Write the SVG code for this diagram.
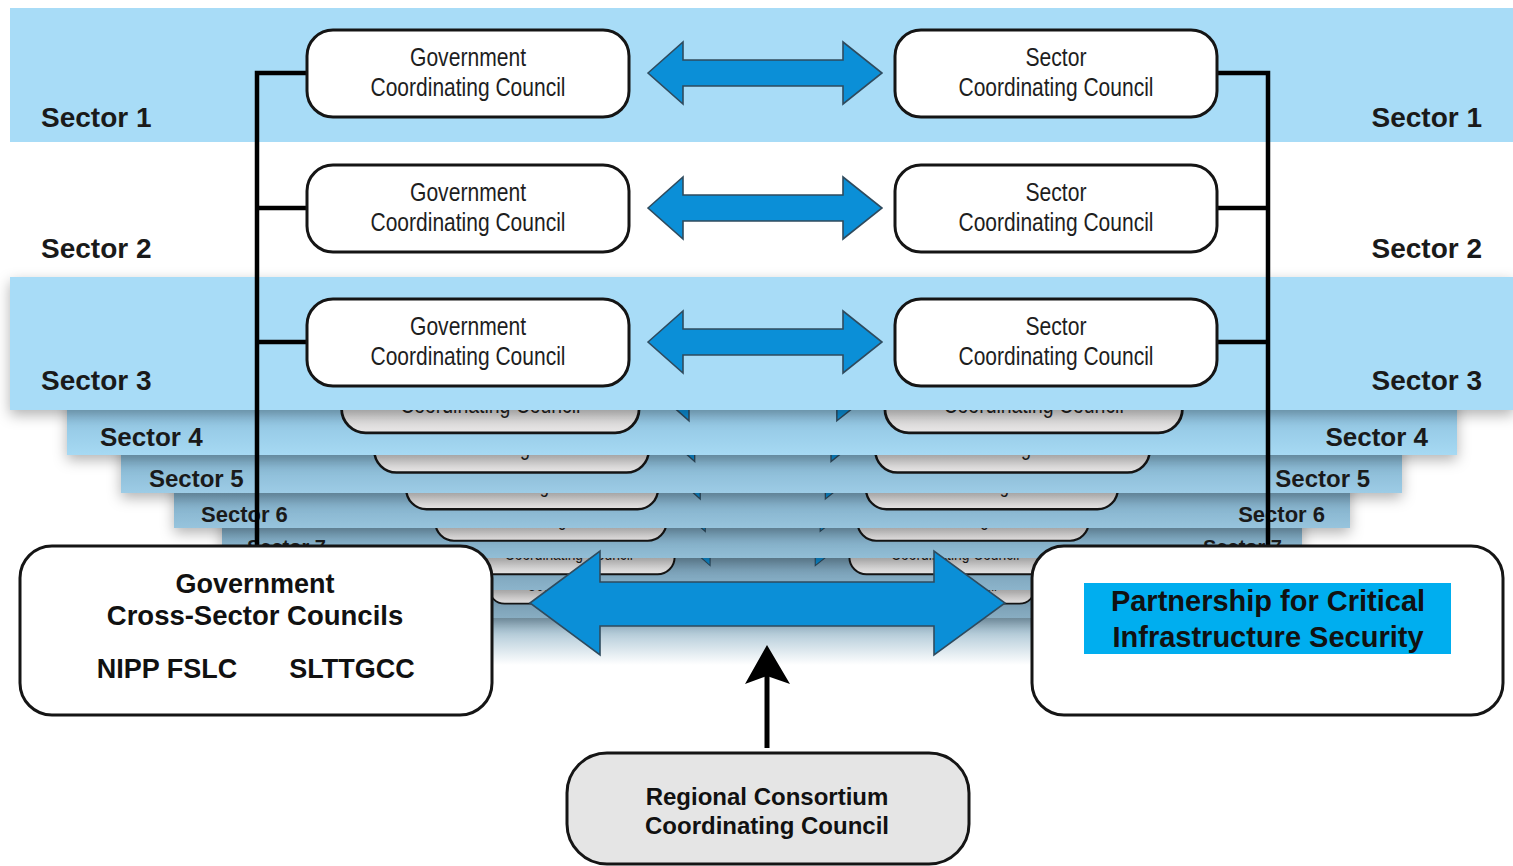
<svg xmlns="http://www.w3.org/2000/svg" xmlns:xlink="http://www.w3.org/1999/xlink" width="1513" height="866" viewBox="0 0 1513 866">
<style>
.gbox{fill:#ffffff;stroke:#151515;stroke-width:3}
.bbox{fill:url(#boxGrad);stroke:#151515;stroke-width:3}
.dbl{fill:#0b8fd7;stroke:#2f4b5e;stroke-width:1.6}
.conn{stroke:#000;stroke-width:4.5;fill:none}
.t1{font-family:"Liberation Sans Narrow","Liberation Sans",Arial,sans-serif;font-size:26px;fill:#1e1e1e;text-anchor:middle}
.sec{font-family:"Liberation Sans",Arial,sans-serif;font-weight:bold;fill:#1a1a1a}
.big{font-family:"Liberation Sans",Arial,sans-serif;font-weight:bold;fill:#111;text-anchor:middle}
</style>
<defs>
<filter id="sh" x="-5%" y="-20%" width="110%" height="150%">
<feDropShadow dx="0" dy="5" stdDeviation="7" flood-color="#000" flood-opacity="0.3"/>
</filter>
<linearGradient id="boxGrad" x1="0" y1="0" x2="0" y2="1">
<stop offset="0" stop-color="#b0b0b0"/><stop offset="0.6" stop-color="#cfcfcf"/><stop offset="1" stop-color="#e8e6e6"/>
</linearGradient>
<linearGradient id="g4" gradientUnits="userSpaceOnUse" x1="0" y1="410" x2="0" y2="455"><stop offset="0" stop-color="#8ec2df"/><stop offset="1" stop-color="#a6d9f3"/></linearGradient>
<linearGradient id="g5" gradientUnits="userSpaceOnUse" x1="0" y1="455" x2="0" y2="493"><stop offset="0" stop-color="#83b3ce"/><stop offset="1" stop-color="#9dcce6"/></linearGradient>
<linearGradient id="g6" gradientUnits="userSpaceOnUse" x1="0" y1="493" x2="0" y2="528"><stop offset="0" stop-color="#7eabc5"/><stop offset="1" stop-color="#97c4dd"/></linearGradient>
<linearGradient id="g7" gradientUnits="userSpaceOnUse" x1="0" y1="528" x2="0" y2="558"><stop offset="0" stop-color="#7aa5be"/><stop offset="1" stop-color="#92bed6"/></linearGradient>
<linearGradient id="g8" gradientUnits="userSpaceOnUse" x1="0" y1="558" x2="0" y2="590"><stop offset="0" stop-color="#7399b0"/><stop offset="1" stop-color="#8cb4cb"/></linearGradient>
<linearGradient id="g9" gradientUnits="userSpaceOnUse" x1="0" y1="590" x2="0" y2="618"><stop offset="0" stop-color="#6f93a9"/><stop offset="1" stop-color="#88adc2"/></linearGradient>
<linearGradient id="fade" x1="0" y1="0" x2="0" y2="1"><stop offset="0" stop-color="#8aafc4"/><stop offset="1" stop-color="#ffffff"/></linearGradient>
<g id="backSheet">
<rect class="bbox" x="-455" y="-111" width="322" height="87" rx="26"/>
<rect class="bbox" x="133" y="-111" width="322" height="87" rx="26"/>
<polygon class="dbl" points="-114,-68 -79,-99 -79,-81 81,-81 81,-99 120,-68 81,-37 81,-55 -79,-55 -79,-37"/>
<text class="t1" x="-294" y="-45" textLength="195" lengthAdjust="spacingAndGlyphs">Coordinating Council</text>
<text class="t1" x="294" y="-45" textLength="195" lengthAdjust="spacingAndGlyphs">Coordinating Council</text>
</g>
</defs>
<rect x="0" y="0" width="1513" height="866" fill="#ffffff"/>

<g id="back-layers">
<rect x="311" y="615" width="902" height="50" fill="url(#fade)"/>
<g id="sheet9">
<rect x="311" y="538" width="902" height="80" fill="url(#g9)" filter="url(#sh)"/>
<use xlink:href="#backSheet" href="#backSheet" transform="translate(762 618) scale(0.6)"/>
</g>
<g id="sheet8">
<rect x="268" y="503" width="988" height="87" fill="url(#g8)" filter="url(#sh)"/>
<use xlink:href="#backSheet" href="#backSheet" transform="translate(762 590) scale(0.657)"/>
</g>
<g id="sheet7">
<rect x="222" y="462" width="1080" height="96" fill="url(#g7)" filter="url(#sh)"/>
<use xlink:href="#backSheet" href="#backSheet" transform="translate(762 558) scale(0.718)"/>
<text class="sec" x="247" y="554" font-size="20">Sector 7</text>
<text class="sec" x="1282" y="554" font-size="20" text-anchor="end">Sector 7</text>
</g>
<g id="sheet6">
<rect x="174" y="424" width="1176" height="104" fill="url(#g6)" filter="url(#sh)"/>
<use xlink:href="#backSheet" href="#backSheet" transform="translate(762 528) scale(0.782)"/>
<text class="sec" x="201" y="522" font-size="22">Sector 6</text>
<text class="sec" x="1325" y="522" font-size="22" text-anchor="end">Sector 6</text>
</g>
<g id="sheet5">
<rect x="121" y="380" width="1281" height="113" fill="url(#g5)" filter="url(#sh)"/>
<use xlink:href="#backSheet" href="#backSheet" transform="translate(762 493) scale(0.852)"/>
<text class="sec" x="149" y="487" font-size="24">Sector 5</text>
<text class="sec" x="1370" y="487" font-size="24" text-anchor="end">Sector 5</text>
</g>
<g id="sheet4">
<rect x="67" y="332" width="1390" height="123" fill="url(#g4)" filter="url(#sh)"/>
<use xlink:href="#backSheet" href="#backSheet" transform="translate(762 455) scale(0.924)"/>
<text class="sec" x="100" y="446" font-size="26">Sector 4</text>
<text class="sec" x="1428" y="446" font-size="26" text-anchor="end">Sector 4</text>
</g>
</g>

<g id="front-sheets">
<rect id="sheet3" x="10" y="277" width="1504" height="133" fill="#a8dcf7" filter="url(#sh)"/>
<rect id="sheet1" x="10" y="8" width="1504" height="134" fill="#a8dcf7"/>
<text class="sec" x="41" y="127" font-size="28">Sector 1</text>
<text class="sec" x="1482" y="127" font-size="28" text-anchor="end">Sector 1</text>
<text class="sec" x="41" y="258" font-size="28">Sector 2</text>
<text class="sec" x="1482" y="258" font-size="28" text-anchor="end">Sector 2</text>
<text class="sec" x="41" y="390" font-size="28">Sector 3</text>
<text class="sec" x="1482" y="390" font-size="28" text-anchor="end">Sector 3</text>
</g>

<g id="connectors">
<path class="conn" d="M307,73 H257 V547 M257,208 H307 M257,342 H307"/>
<path class="conn" d="M1217,73 H1268 V547 M1217,208 H1268 M1217,342 H1268"/>
<polygon class="dbl" points="648,73 683,42 683,60 843,60 843,42 882,73 843,104 843,86 683,86 683,104"/>
<polygon class="dbl" points="648,208 683,177 683,195 843,195 843,177 882,208 843,239 843,221 683,221 683,239"/>
<polygon class="dbl" points="648,342 683,311 683,329 843,329 843,311 882,342 843,373 843,355 683,355 683,373"/>
<polygon class="dbl" points="530,603 600,551 600,582 934,582 934,551 1005,603 934,655 934,626 600,626 600,655"/>
<line x1="767" y1="748" x2="767" y2="672" stroke="#000" stroke-width="5"/>
<polygon points="767,645 790,684 767,676 745,684" fill="#000"/>
</g>

<g id="gcc1"><rect class="gbox" x="307" y="30" width="322" height="87" rx="26"/>
<text class="t1" x="468" y="66" textLength="116" lengthAdjust="spacingAndGlyphs">Government</text>
<text class="t1" x="468" y="96" textLength="195" lengthAdjust="spacingAndGlyphs">Coordinating Council</text></g>
<g id="scc1"><rect class="gbox" x="895" y="30" width="322" height="87" rx="26"/>
<text class="t1" x="1056" y="66" textLength="61" lengthAdjust="spacingAndGlyphs">Sector</text>
<text class="t1" x="1056" y="96" textLength="195" lengthAdjust="spacingAndGlyphs">Coordinating Council</text></g>
<g id="gcc2"><rect class="gbox" x="307" y="165" width="322" height="87" rx="26"/>
<text class="t1" x="468" y="201" textLength="116" lengthAdjust="spacingAndGlyphs">Government</text>
<text class="t1" x="468" y="231" textLength="195" lengthAdjust="spacingAndGlyphs">Coordinating Council</text></g>
<g id="scc2"><rect class="gbox" x="895" y="165" width="322" height="87" rx="26"/>
<text class="t1" x="1056" y="201" textLength="61" lengthAdjust="spacingAndGlyphs">Sector</text>
<text class="t1" x="1056" y="231" textLength="195" lengthAdjust="spacingAndGlyphs">Coordinating Council</text></g>
<g id="gcc3"><rect class="gbox" x="307" y="299" width="322" height="87" rx="26"/>
<text class="t1" x="468" y="335" textLength="116" lengthAdjust="spacingAndGlyphs">Government</text>
<text class="t1" x="468" y="365" textLength="195" lengthAdjust="spacingAndGlyphs">Coordinating Council</text></g>
<g id="scc3"><rect class="gbox" x="895" y="299" width="322" height="87" rx="26"/>
<text class="t1" x="1056" y="335" textLength="61" lengthAdjust="spacingAndGlyphs">Sector</text>
<text class="t1" x="1056" y="365" textLength="195" lengthAdjust="spacingAndGlyphs">Coordinating Council</text></g>

<g id="cross-sector">
<rect class="gbox" x="20" y="546" width="472" height="169" rx="32"/>
<text class="big" x="255" y="593" font-size="27">Government</text>
<text class="big" x="255" y="625" font-size="27.5">Cross-Sector Councils</text>
<text class="big" x="167" y="678" font-size="27">NIPP FSLC</text>
<text class="big" x="352" y="678" font-size="27">SLTTGCC</text>
</g>
<g id="pcis">
<rect class="gbox" x="1032" y="546" width="471" height="169" rx="32"/>
<rect x="1084" y="583" width="367" height="71" fill="#00aeef"/>
<text class="big" x="1268" y="611" font-size="29">Partnership for Critical</text>
<text class="big" x="1268" y="647" font-size="29">Infrastructure Security</text>
</g>
<g id="regional">
<rect x="567" y="753" width="402" height="111" rx="40" fill="#e5e5e5" stroke="#151515" stroke-width="3"/>
<text class="big" x="767" y="805" font-size="24">Regional Consortium</text>
<text class="big" x="767" y="834" font-size="24">Coordinating Council</text>
</g>
</svg>
